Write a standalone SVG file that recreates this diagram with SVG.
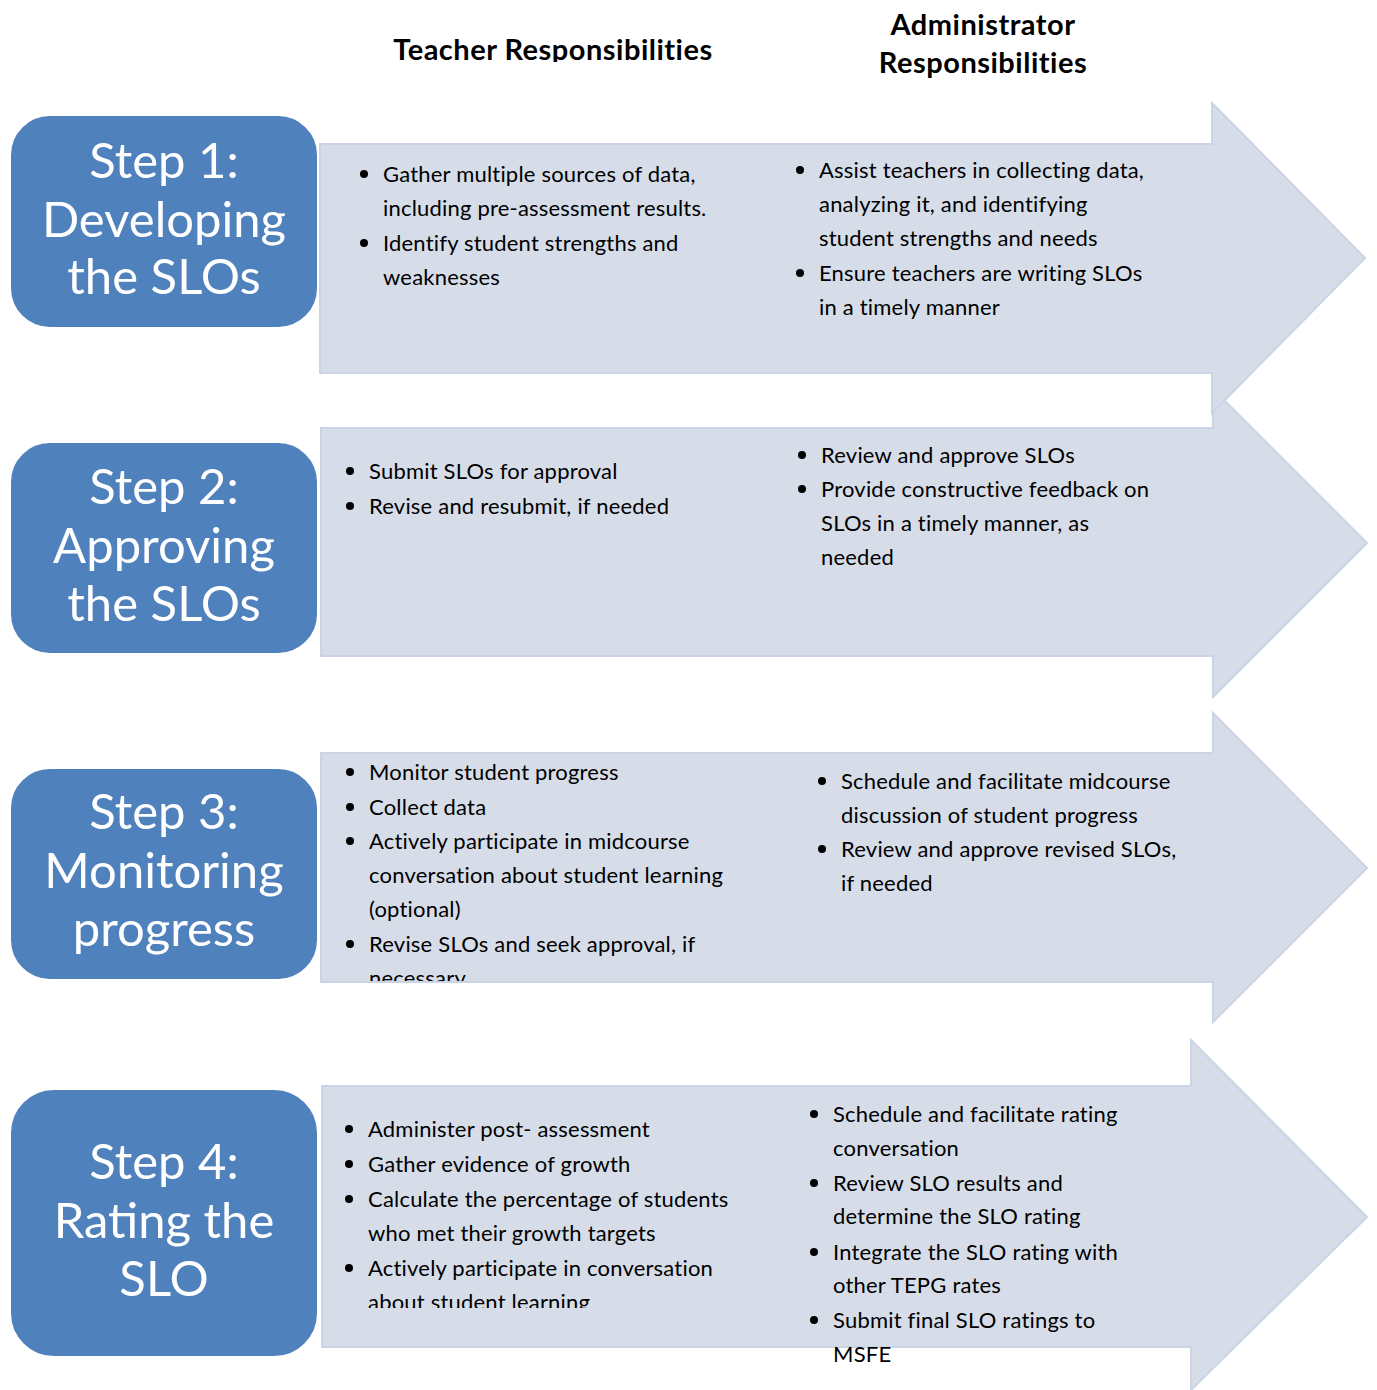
<svg xmlns="http://www.w3.org/2000/svg" width="1377" height="1390" viewBox="0 0 1377 1390">
  <style>
    .arrow { fill: #d6dde9; stroke: #cbd4e5; stroke-width: 2; stroke-linejoin: miter; }
    .step { fill: #4f81bd; stroke: #ffffff; stroke-width: 2; }
    .title { font-family: Lato, "Open Sans", sans-serif; font-size: 49px; fill: #ffffff; text-anchor: middle; }
    .head { font-family: Lato, "Open Sans", sans-serif; font-size: 29px; font-weight: bold; fill: #000000; letter-spacing: 0.5px; }
    .item { font-family: Lato, "Open Sans", sans-serif; font-size: 22px; fill: #000000; letter-spacing: 0.2px; }
    .dot { fill: #000000; }
  </style>
  <defs>
    <clipPath id="clipTeacherHead"><rect x="380" y="20" width="360" height="42"/></clipPath>
    <clipPath id="clipStep3Teacher"><rect x="320" y="740" width="480" height="241"/></clipPath>
    <clipPath id="clipStep4Teacher"><rect x="320" y="1090" width="480" height="218"/></clipPath>
  </defs>

  <rect width="1377" height="1390" fill="#ffffff"/>

  <!-- column headings -->
  <g id="headings">
    <text class="head" x="553" y="60" text-anchor="middle" clip-path="url(#clipTeacherHead)">Teacher Responsibilities</text>
    <text class="head" x="983" y="35" text-anchor="middle">Administrator</text>
    <text class="head" x="983" y="73" text-anchor="middle">Responsibilities</text>
  </g>

  <!-- block arrows carrying the responsibilities -->
  <g id="connectors">
    <polygon id="arrow2" class="arrow" points="321,428 1213,428 1213,389 1367,543 1213,697 1213,656 321,656"/>
    <polygon id="arrow1" class="arrow" points="320,144 1212,144 1212,103 1365,258 1212,413 1212,373 320,373"/>
    <polygon id="arrow4" class="arrow" points="322,1086 1191,1086 1191,1040 1367,1217 1191,1390 1191,1347 322,1347"/>
    <polygon id="arrow3" class="arrow" points="321,753 1213,753 1213,713 1367,868 1213,1022 1213,982 321,982"/>
  </g>

  <!-- Step 1 -->
  <g id="step1">
    <rect class="step" x="10" y="115" width="308" height="213" rx="40"/>
    <text class="title" x="164" y="178">Step 1:</text>
    <text class="title" x="164" y="237">Developing</text>
    <text class="title" x="164" y="294">the SLOs</text>
  </g>
  <g id="step1-teacher">
    <circle class="dot" cx="364" cy="174" r="4"/>
    <text class="item" x="383" y="182">Gather multiple sources of data,</text>
    <text class="item" x="383" y="216">including pre-assessment results.</text>
    <circle class="dot" cx="364" cy="243" r="4"/>
    <text class="item" x="383" y="251">Identify student strengths and</text>
    <text class="item" x="383" y="285">weaknesses</text>
  </g>
  <g id="step1-admin">
    <circle class="dot" cx="800" cy="170" r="4"/>
    <text class="item" x="819" y="178">Assist teachers in collecting data,</text>
    <text class="item" x="819" y="212">analyzing it, and identifying</text>
    <text class="item" x="819" y="246">student strengths and needs</text>
    <circle class="dot" cx="800" cy="273" r="4"/>
    <text class="item" x="819" y="281">Ensure teachers are writing SLOs</text>
    <text class="item" x="819" y="315">in a timely manner</text>
  </g>

  <!-- Step 2 -->
  <g id="step2">
    <rect class="step" x="10" y="442" width="308" height="212" rx="40"/>
    <text class="title" x="164" y="504">Step 2:</text>
    <text class="title" x="164" y="563">Approving</text>
    <text class="title" x="164" y="621">the SLOs</text>
  </g>
  <g id="step2-teacher">
    <circle class="dot" cx="350" cy="471" r="4"/>
    <text class="item" x="369" y="479">Submit SLOs for approval</text>
    <circle class="dot" cx="350" cy="506" r="4"/>
    <text class="item" x="369" y="514">Revise and resubmit, if needed</text>
  </g>
  <g id="step2-admin">
    <circle class="dot" cx="802" cy="455" r="4"/>
    <text class="item" x="821" y="463">Review and approve SLOs</text>
    <circle class="dot" cx="802" cy="489" r="4"/>
    <text class="item" x="821" y="497">Provide constructive feedback on</text>
    <text class="item" x="821" y="531">SLOs in a timely manner, as</text>
    <text class="item" x="821" y="565">needed</text>
  </g>

  <!-- Step 3 -->
  <g id="step3">
    <rect class="step" x="10" y="768" width="308" height="212" rx="40"/>
    <text class="title" x="164" y="829">Step 3:</text>
    <text class="title" x="164" y="888">Monitoring</text>
    <text class="title" x="164" y="946">progress</text>
  </g>
  <g id="step3-teacher" clip-path="url(#clipStep3Teacher)">
    <circle class="dot" cx="350" cy="772" r="4"/>
    <text class="item" x="369" y="780">Monitor student progress</text>
    <circle class="dot" cx="350" cy="807" r="4"/>
    <text class="item" x="369" y="815">Collect data</text>
    <circle class="dot" cx="350" cy="841" r="4"/>
    <text class="item" x="369" y="849">Actively participate in midcourse</text>
    <text class="item" x="369" y="883">conversation about student learning</text>
    <text class="item" x="369" y="917">(optional)</text>
    <circle class="dot" cx="350" cy="944" r="4"/>
    <text class="item" x="369" y="952">Revise SLOs and seek approval, if</text>
    <text class="item" x="369" y="986">necessary</text>
  </g>
  <g id="step3-admin">
    <circle class="dot" cx="822" cy="781" r="4"/>
    <text class="item" x="841" y="789">Schedule and facilitate midcourse</text>
    <text class="item" x="841" y="823">discussion of student progress</text>
    <circle class="dot" cx="822" cy="849" r="4"/>
    <text class="item" x="841" y="857">Review and approve revised SLOs,</text>
    <text class="item" x="841" y="891">if needed</text>
  </g>

  <!-- Step 4 -->
  <g id="step4">
    <rect class="step" x="10" y="1089" width="308" height="268" rx="44"/>
    <text class="title" x="164" y="1179">Step 4:</text>
    <text class="title" x="164" y="1238">Rating the</text>
    <text class="title" x="164" y="1296">SLO</text>
  </g>
  <g id="step4-teacher" clip-path="url(#clipStep4Teacher)">
    <circle class="dot" cx="349" cy="1129" r="4"/>
    <text class="item" x="368" y="1137">Administer post- assessment</text>
    <circle class="dot" cx="349" cy="1164" r="4"/>
    <text class="item" x="368" y="1172">Gather evidence of growth</text>
    <circle class="dot" cx="349" cy="1199" r="4"/>
    <text class="item" x="368" y="1207">Calculate the percentage of students</text>
    <text class="item" x="368" y="1241">who met their growth targets</text>
    <circle class="dot" cx="349" cy="1268" r="4"/>
    <text class="item" x="368" y="1276">Actively participate in conversation</text>
    <text class="item" x="368" y="1310">about student learning</text>
  </g>
  <g id="step4-admin">
    <circle class="dot" cx="814" cy="1114" r="4"/>
    <text class="item" x="833" y="1122">Schedule and facilitate rating</text>
    <text class="item" x="833" y="1156">conversation</text>
    <circle class="dot" cx="814" cy="1183" r="4"/>
    <text class="item" x="833" y="1191">Review SLO results and</text>
    <text class="item" x="833" y="1224">determine the SLO rating</text>
    <circle class="dot" cx="814" cy="1252" r="4"/>
    <text class="item" x="833" y="1260">Integrate the SLO rating with</text>
    <text class="item" x="833" y="1293">other TEPG rates</text>
    <circle class="dot" cx="814" cy="1320" r="4"/>
    <text class="item" x="833" y="1328">Submit final SLO ratings to</text>
    <text class="item" x="833" y="1362">MSFE</text>
  </g>
</svg>
